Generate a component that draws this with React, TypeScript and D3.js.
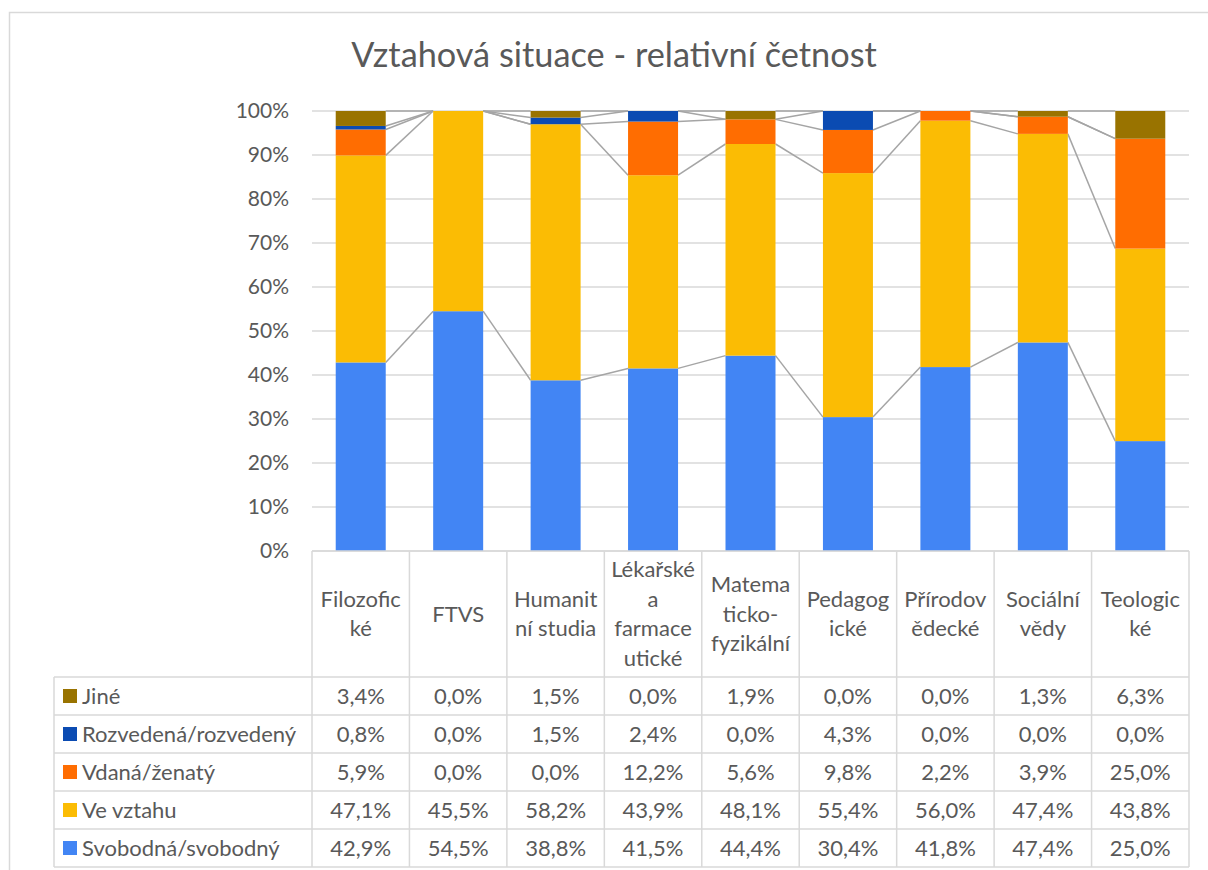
import React from 'react';
import * as d3 from 'd3';

const categories = ['Filozofické', 'FTVS', 'Humanitní studia', 'Lékařské a farmaceutické', 'Matematicko-fyzikální', 'Pedagogické', 'Přírodovědecké', 'Sociální vědy', 'Teologické'];
const categoryLines = [
  ['Filozofic', 'ké'],
  ['FTVS'],
  ['Humanit', 'ní studia'],
  ['Lékařské', 'a', 'farmace', 'utické'],
  ['Matema', 'ticko-', 'fyzikální'],
  ['Pedagog', 'ické'],
  ['Přírodov', 'ědecké'],
  ['Sociální', 'vědy'],
  ['Teologic', 'ké'],
];

// bottom to top
const seriesNames = ['Svobodná/svobodný', 'Ve vztahu', 'Vdaná/ženatý', 'Rozvedená/rozvedený', 'Jiné'];
const svobodna = [42.9, 54.5, 38.8, 41.5, 44.4, 30.4, 41.8, 47.4, 25.0];
const veVztahu = [47.1, 45.5, 58.2, 43.9, 48.1, 55.4, 56.0, 47.4, 43.8];
const vdana = [5.9, 0.0, 0.0, 12.2, 5.6, 9.8, 2.2, 3.9, 25.0];
const rozvedena = [0.8, 0.0, 1.5, 2.4, 0.0, 4.3, 0.0, 0.0, 0.0];
const jine = [3.4, 0.0, 1.5, 0.0, 1.9, 0.0, 0.0, 1.3, 6.3];
const seriesValues = [svobodna, veVztahu, vdana, rozvedena, jine];
const colors = ['#4285F4', '#FBBC04', '#FF6D01', '#0B4BB2', '#997300'];
const yTicks = [0, 0.1, 0.2, 0.3, 0.4, 0.5, 0.6, 0.7, 0.8, 0.9, 1];

const font = 'Lato, sans-serif';
const textColor = '#595959';
const gridColor = '#D9D9D9';
const fs = 22;

export default function App() {
  const left = 312, right = 1189, top = 111, bottom = 551;
  const headerBottom = 677, rowH = 38, tableLeft = 54;

  const rows = categories.map((c, i) => {
    const r: any = { cat: c };
    seriesNames.forEach((s, j) => (r[s] = seriesValues[j][i]));
    return r;
  });
  const stacked = d3.stack<any>().keys(seriesNames).offset(d3.stackOffsetExpand)(rows);

  const x = d3.scaleBand().domain(categories).range([left, right]).paddingInner(0).paddingOuter(0);
  const y = d3.scaleLinear().domain([0, 1]).range([bottom, top]);
  const barW = 50;
  const barX = (c: string) => x(c)! + x.bandwidth() / 2 - barW / 2;
  const pct = d3.format('.0%');
  const fmt = (v: number) => v.toFixed(1).replace('.', ',') + '%';

  const tableRows = [...seriesNames].map((s, j) => ({ s, j })).reverse();

  return (
    <svg width={1208} height={870} style={{ position: 'absolute', left: 0, top: 0 }} fontFamily={font}>
      <rect x={0} y={0} width={1208} height={870} fill="#fff" />
      <rect x={9.5} y={12.5} width={1220} height={900} fill="none" stroke={gridColor} strokeWidth={1.5} />
      <text x={614} y={67} textAnchor="middle" fontSize={34.3} fill={textColor}>Vztahová situace - relativní četnost</text>

      {yTicks.map(t => (
        <g key={t}>
          <line x1={left} x2={right} y1={y(t)} y2={y(t)} stroke={gridColor} strokeWidth={1.5} />
          <text x={289} y={y(t)} dy="0.35em" textAnchor="end" fontSize={21} fill={textColor}>{pct(t)}</text>
        </g>
      ))}

      {/* series lines */}
      {stacked.map(layer =>
        layer.slice(0, -1).map((d, i) => {
          const c1 = categories[i], c2 = categories[i + 1];
          return (
            <line key={layer.key + i} x1={barX(c1) + barW} y1={y(d[1])} x2={barX(c2)} y2={y(layer[i + 1][1])}
              stroke="#A5A5A5" strokeWidth={1.5} />
          );
        })
      )}

      {stacked.map((layer, j) => (
        <g key={layer.key} fill={colors[j]}>
          {layer.map((d, i) => (
            <rect key={i} x={barX(categories[i])} width={barW} y={y(d[1])} height={Math.max(0, y(d[0]) - y(d[1]))} />
          ))}
        </g>
      ))}

      {/* data table */}
      <g stroke={gridColor} strokeWidth={1.5}>
        <line x1={left} x2={right} y1={bottom} y2={bottom} />
        {d3.range(categories.length + 1).map(i => (
          <line key={i} x1={left + i * x.bandwidth()} x2={left + i * x.bandwidth()} y1={bottom} y2={headerBottom + rowH * 5} />
        ))}
        <line x1={tableLeft} x2={tableLeft} y1={headerBottom} y2={headerBottom + rowH * 5} />
        {d3.range(6).map(r => (
          <line key={r} x1={tableLeft} x2={right} y1={headerBottom + r * rowH} y2={headerBottom + r * rowH} />
        ))}
      </g>

      {categories.map((c, i) => {
        const lines = categoryLines[i];
        const cx = x(c)! + x.bandwidth() / 2;
        const mid = (bottom + headerBottom) / 2;
        const lh = 29.5;
        return (
          <text key={c} textAnchor="middle" fontSize={fs} fill={textColor}>
            {lines.map((l, k) => (
              <tspan key={k} x={cx} y={mid + (k - (lines.length - 1) / 2) * lh} dy="0.35em">{l}</tspan>
            ))}
          </text>
        );
      })}

      {tableRows.map((row, r) => {
        const cy = headerBottom + r * rowH + rowH / 2;
        return (
          <g key={row.s}>
            <rect x={63} y={cy - 7} width={14} height={14} fill={colors[row.j]} />
            <text x={82} y={cy} dy="0.35em" fontSize={fs} fill={textColor}>{row.s}</text>
            {categories.map((c, i) => (
              <text key={c} x={x(c)! + x.bandwidth() / 2} y={cy} dy="0.35em" textAnchor="middle" fontSize={fs} fill={textColor}>
                {fmt(seriesValues[row.j][i])}
              </text>
            ))}
          </g>
        );
      })}
    </svg>
  );
}
